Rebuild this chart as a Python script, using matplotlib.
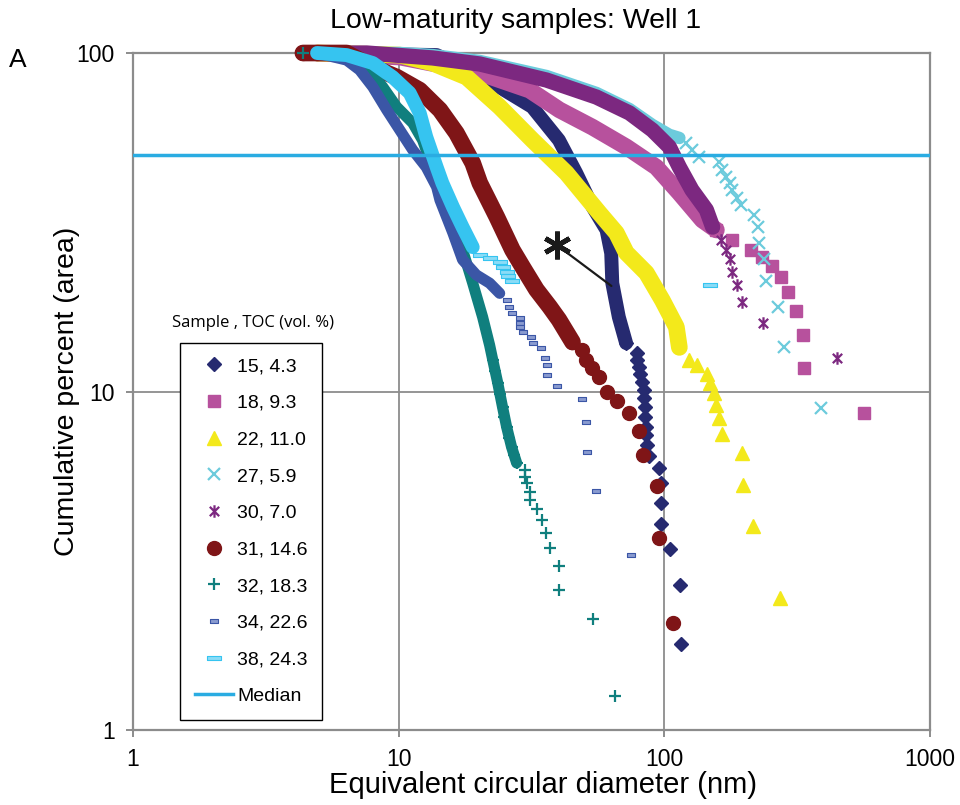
import numpy as np
import matplotlib
matplotlib.use("Agg")
import matplotlib.pyplot as plt
from matplotlib.path import Path

plt.rcParams['font.family'] = ['Liberation Sans', 'DejaVu Sans']

# dense part of each curve (thick band) and sparse tail (single markers)
s15_x = [4.93, 13.9, 18.5, 23.9, 31.8, 40.1, 46.6, 53.7, 60.6, 63.1, 63.7, 67.4, 71.8]
s15_y = [100, 98.6, 89.1, 79.4, 69.3, 55.3, 44.2, 35.1, 30.0, 25.6, 20.9, 16.6, 13.9]
s15_tx = [71.8, 78.7, 79.1, 80.1, 81.0, 82.5, 83.6, 84.1, 84.3, 84.8, 85.3, 85.3, 85.8, 87.3,
          95.8, 97.4, 97.4, 97.4, 105.3, 114.9, 115.9]
s15_ty = [13.9, 13.0, 12.4, 11.8, 11.3, 10.7, 10.1, 9.55, 9.02, 8.42, 7.87, 7.44, 6.95, 6.45,
          5.94, 5.37, 4.69, 4.06, 3.43, 2.68, 1.79]

s18_x = [4.93, 10.1, 18.0, 20.2, 31.1, 40.3, 53.6, 71.9, 93.3, 113.9, 139, 157]
s18_y = [100, 97.3, 89.1, 87.3, 77.7, 67.9, 60.4, 52.8, 46.0, 38.6, 32.1, 30.0]
s18_tx = [157, 180, 212, 234, 255, 275, 292, 313, 333, 336, 565]
s18_ty = [30.0, 28.0, 26.2, 25.0, 23.5, 21.8, 19.7, 17.3, 14.7, 11.7, 8.64]

s22_x = [4.93, 10.1, 13.4, 18.0, 24.0, 31.9, 42.8, 56.9, 66.0, 71.9, 85.6, 98.3, 111, 113.9]
s22_y = [100, 98.6, 93.4, 84.9, 69.3, 55.3, 44.2, 33.7, 29.4, 25.7, 22.4, 18.6, 15.5, 13.5]
s22_tx = [124, 133, 145, 149, 154, 157, 161, 165, 196, 198, 216, 273]
s22_ty = [12.4, 12.0, 11.3, 10.6, 9.90, 9.12, 8.35, 7.49, 6.58, 5.29, 4.00, 2.45]

s27_x = [4.93, 10.1, 13.4, 20.2, 36.0, 55.5, 73.9, 90.1, 104.4, 113.9]
s27_y = [100, 100, 98.6, 94.7, 85.5, 76.2, 68.3, 61.3, 57.3, 56.1]
s27_tx = [121, 127, 135, 161, 165, 171, 176, 180, 188, 195, 218, 226, 228, 238, 242, 268, 283, 389]
s27_ty = [54.2, 51.7, 49.3, 47.6, 45.1, 43.0, 41.3, 39.4, 37.3, 35.6, 33.2, 30.6, 27.5, 24.6,
          21.2, 17.8, 13.5, 8.94]

s30_x = [4.93, 7.58, 13.4, 20.2, 36.0, 55.5, 73.9, 90.1, 104.4, 113.9, 127, 144, 152]
s30_y = [100, 100, 96.7, 92.8, 83.2, 74.1, 66.5, 59.2, 52.8, 46.0, 39.4, 34.4, 30.6]
s30_tx = [152, 164, 171, 176, 180, 187, 196, 236, 447]
s30_ty = [30.6, 28.0, 26.2, 24.6, 22.5, 20.6, 18.4, 15.9, 12.6]

s31_x = [4.36, 6.37, 7.99, 9.83, 12.0, 14.3, 16.5, 19.0, 20.2, 23.4, 26.8, 29.3, 33.0, 37.0,
         40.1, 45.1]
s31_y = [100, 100, 90.9, 84.9, 77.7, 67.9, 58.0, 47.3, 41.3, 32.8, 26.2, 23.3, 20.0, 17.8,
         16.3, 14.0]
s31_tx = [4.36, 4.93, 45.1, 49.2, 50.9, 53.6, 56.9, 61.1, 66.6, 73.9, 80.5, 83.4, 94.1, 95.8, 108]
s31_ty = [100, 100, 14.0, 13.3, 12.4, 11.7, 11.0, 10.0, 9.37, 8.64, 7.64, 6.49, 5.26, 3.69, 2.07]

s32_x = [4.93, 6.37, 7.58, 8.71, 9.83, 11.3, 12.3, 13.4, 14.3, 15.6, 17.4, 19.0, 20.7, 22.0,
         22.6, 23.6, 24.6, 25.5, 26.6, 27.8]
s32_y = [100, 97.3, 90.9, 79.4, 69.3, 62.1, 55.3, 46.0, 40.2, 34.4, 26.2, 20.9, 16.6, 13.7,
         12.4, 10.6, 9.00, 7.85, 6.86, 6.15]
s32_tx = [4.36, 22.6, 23.1, 23.6, 24.1, 24.6, 25.0, 25.5, 26.0, 26.6, 27.2, 27.8, 30.0, 30.0,
          30.5, 31.1, 31.3, 33.3, 34.5, 36.0, 37.0, 40.0, 40.0, 54.1, 65.4]
s32_ty = [100, 12.4, 11.5, 10.6, 9.8, 9.00, 8.4, 7.85, 7.3, 6.86, 6.5, 6.15, 5.86, 5.59,
          5.37, 5.04, 4.78, 4.50, 4.17, 3.82, 3.45, 3.05, 2.59, 2.13, 1.26]

s34_x = [4.93, 6.37, 7.13, 7.99, 9.02, 10.1, 11.3, 12.7, 13.9, 14.3, 16.0, 17.4, 19.6, 22.0, 24.0]
s34_y = [100, 95.3, 89.1, 79.4, 67.9, 59.2, 51.7, 46.0, 40.2, 36.8, 29.4, 24.5, 22.1, 20.9, 19.5]
s34_tx = [25.5, 26.1, 26.8, 28.5, 28.5, 28.5, 29.5, 31.6, 31.9, 34.2, 35.4, 36.3, 36.3, 39.3,
          48.8, 50.9, 51.3, 55.5, 75.1]
s34_ty = [18.6, 17.8, 17.1, 16.5, 15.9, 15.5, 15.0, 14.5, 13.9, 13.4, 12.6, 12.0, 11.2, 10.4,
          9.50, 8.13, 6.63, 5.08, 3.29]

s38_x = [4.93, 6.37, 7.99, 9.49, 11.0, 12.0, 12.7, 13.9, 14.6, 16.0, 17.4, 19.0]
s38_y = [100, 98.6, 93.4, 84.9, 76.2, 66.5, 56.5, 46.0, 41.3, 35.1, 30.6, 26.7]
s38_tx = [20.2, 22.0, 24.0, 24.6, 25.5, 25.7, 26.6, 148]
s38_ty = [25.3, 24.8, 24.1, 23.3, 22.5, 21.9, 21.2, 20.6]

labels = ['15, 4.3', '18, 9.3', '22, 11.0', '27, 5.9', '30, 7.0',
          '31, 14.6', '32, 18.3', '34, 22.6', '38, 24.3']
colors = ['#262a70', '#b7519d', '#f3e91b', '#6ccbdc', '#7c2880',
          '#7f1517', '#107f7e', '#3b56a6', '#36c4f0']
median = 50

star = Path([(0, -1), (0, 1), (-0.75, -0.75), (0.75, 0.75), (-0.75, 0.75), (0.75, -0.75)],
            [Path.MOVETO, Path.LINETO, Path.MOVETO, Path.LINETO, Path.MOVETO, Path.LINETO])
dash_s = [(-1, -0.5), (1, -0.5), (1, 0.5), (-1, 0.5), (-1, -0.5)]
dash_l = [(-1, -0.3), (1, -0.3), (1, 0.3), (-1, 0.3), (-1, -0.3)]

styles = [
    dict(marker='D', ms=7.5),
    dict(marker='s', ms=9),
    dict(marker='^', ms=10),
    dict(marker='x', ms=8.5, mew=1.6),
    dict(marker=star, ms=9, mew=1.6),
    dict(marker='o', ms=10),
    dict(marker='+', ms=9, mew=1.6),
    dict(marker=dash_s, ms=6, mew=0.8, mfc='#8a9bd0'),
    dict(marker=dash_l, ms=10, mew=0.8, mfc='#8adcf7'),
]
band_lw = [10, 12, 12, 9, 11, 12, 8, 8, 10]

dense = [(s15_x, s15_y), (s18_x, s18_y), (s22_x, s22_y), (s27_x, s27_y), (s30_x, s30_y),
         (s31_x, s31_y), (s32_x, s32_y), (s34_x, s34_y), (s38_x, s38_y)]
tails = [(s15_tx, s15_ty), (s18_tx, s18_ty), (s22_tx, s22_ty), (s27_tx, s27_ty), (s30_tx, s30_ty),
         (s31_tx, s31_ty), (s32_tx, s32_ty), (s34_tx, s34_ty), (s38_tx, s38_ty)]

fig = plt.figure(figsize=(9.6, 8.05), dpi=100)
ax = fig.add_axes([133 / 960, 1 - 730 / 805, 797 / 960, 677 / 805])
ax.set_xscale('log')
ax.set_yscale('log')
ax.set_xlim(1, 1000)
ax.set_ylim(1, 100)

handles = []
for i in range(9):
    st = dict(styles[i])
    st.setdefault('mec', colors[i])
    st.setdefault('mfc', colors[i])
    ax.plot(dense[i][0], dense[i][1], '-', color=colors[i], lw=band_lw[i],
            solid_capstyle='round', solid_joinstyle='round', zorder=3 + i, clip_on=False)
    h, = ax.plot(tails[i][0], tails[i][1], ls='none', color=colors[i], zorder=3 + i,
                 clip_on=False, label=labels[i], **st)
    handles.append(h)

hm = ax.axhline(median, color='#2aace2', lw=2.5, zorder=20, label='Median')
handles.append(hm)

# asterisk callout
ax.annotate('', xy=(63.2, 20.5), xytext=(39.3, 27.1),
            arrowprops=dict(arrowstyle='-', color='#1a1a1a', lw=1.6, shrinkA=0, shrinkB=0),
            zorder=21)
ax.plot([39.3], [27.1], marker=(6, 2, 0), ms=20, mew=3.5, color='#1a1a1a', zorder=22)

ax.grid(True, which='major', color='#8c8c8c', lw=1.3)
ax.set_axisbelow(True)
for sp in ax.spines.values():
    sp.set_color('#8c8c8c')
    sp.set_linewidth(1.6)
ax.minorticks_off()
ax.set_xticks([1, 10, 100, 1000])
ax.set_xticklabels(['1', '10', '100', '1000'])
ax.set_yticks([1, 10, 100])
ax.set_yticklabels(['1', '10', '100'])
ax.tick_params(axis='both', which='major', direction='out', length=5, width=1.4,
               color='#8c8c8c', labelsize=16.5, pad=8)

ax.set_xlabel('Equivalent circular diameter (nm)', fontsize=21)
ax.xaxis.set_label_coords(0.514, -0.06)
ax.set_ylabel('Cumulative percent (area)', fontsize=20.5)
ax.yaxis.set_label_coords(-0.066, 0.5)

fig.text(516 / 960, 1 - 21 / 805, 'Low-maturity samples: Well 1', ha='center', va='center',
         fontsize=20.5)
fig.text(18 / 960, 1 - 60 / 805, 'A', ha='center', va='center', fontsize=19)
fig.text(172 / 960, 1 - 323 / 805, 'Sample , TOC (vol. %)', ha='left', va='center',
         fontsize=12, family=['Open Sans', 'DejaVu Sans'])

leg = ax.legend(handles=handles, loc='upper left', bbox_to_anchor=(180 / 960, 1 - 343 / 805),
                bbox_transform=fig.transFigure, fontsize=14, frameon=True, fancybox=False,
                edgecolor='black', framealpha=1, borderpad=0.75, labelspacing=0.98,
                handlelength=2.0, handletextpad=0.2, borderaxespad=0, numpoints=1)
leg.get_frame().set_linewidth(1.0)
leg.set_zorder(30)

fig.savefig('out.png', dpi=100)
